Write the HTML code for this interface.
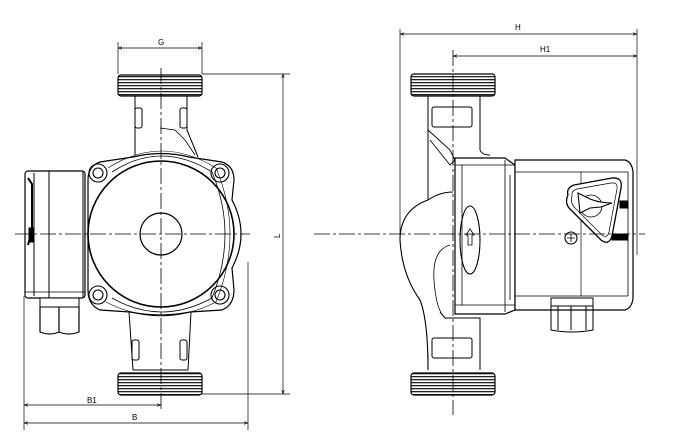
<!DOCTYPE html>
<html><head><style>
html,body{margin:0;padding:0;background:#fff;}
svg{display:block;}
text{font-family:"Liberation Sans",sans-serif;font-size:8px;fill:#000;}
</style></head><body>
<svg width="687" height="438" viewBox="0 0 687 438" xmlns="http://www.w3.org/2000/svg" fill="none" stroke="#000" stroke-width="1">
<defs>
<pattern id="th" x="0" y="0" width="4" height="3" patternUnits="userSpaceOnUse"><rect width="4" height="3" fill="#fff" stroke="none"/><rect x="0" y="1" width="4" height="1.3" fill="#222" stroke="none"/></pattern>
<marker id="ar" markerWidth="6" markerHeight="6" refX="6" refY="3" orient="auto-start-reverse"><path d="M0,1 L6,3 L0,5" stroke="#000" stroke-width="0.8"/></marker>
</defs>

<line x1="118" y1="42" x2="118" y2="74" stroke-width="0.7"/>
<line x1="202" y1="42" x2="202" y2="74" stroke-width="0.7"/>
<line x1="118" y1="48" x2="202" y2="48" stroke-width="0.7" marker-start="url(#ar)" marker-end="url(#ar)"/>
<text x="158" y="45" stroke="none">G</text>
<rect x="118" y="75" width="84" height="21" rx="3" fill="url(#th)" stroke-width="1.2"/>
<rect x="118" y="373" width="84" height="22" rx="3" fill="url(#th)" stroke-width="1.2"/>
<path d="M135,96 L135,155 M187,96 L187,130 L198,157"/>
<path d="M160,128 L175,130 L185,140 L195,155" stroke-width="0.8"/>
<rect x="135" y="108" width="7" height="20" rx="2"/>
<rect x="180" y="108" width="7" height="20" rx="2"/>
<path d="M129,312 L133,370 M191,312 L188,370"/>
<path d="M133,370 L188,370"/>
<rect x="132" y="340" width="7" height="20" rx="2"/>
<rect x="180" y="340" width="7" height="20" rx="2"/>
<path d="M100,162 L133,157 Q161,150 189,157 L222,162 Q234,166 234,180 L232,200 Q250,234 232,268 L234,290 Q234,305 222,310 L190,312 Q161,318 130,312 L100,310 Q88,305 88,290 L88,180 Q88,166 100,162 Z" stroke-width="1.2"/>
<path d="M112,172 Q161,140 212,172 Q238,234 212,298 Q161,326 112,298" stroke-width="0.8"/>
<path d="M108,168 Q161,134 216,168 Q244,234 216,302 Q161,330 106,302" stroke-width="0.6"/>
<circle cx="161" cy="234" r="73" stroke-width="1.6"/>
<circle cx="161" cy="234" r="21" stroke-width="1.2"/>
<g stroke-width="1.1">
<circle cx="98" cy="173" r="9"/><circle cx="98" cy="173" r="5"/>
<circle cx="220" cy="173" r="9"/><circle cx="220" cy="173" r="5"/>
<circle cx="98" cy="295" r="9"/><circle cx="98" cy="295" r="5"/>
<circle cx="220" cy="295" r="9"/><circle cx="220" cy="295" r="5"/>
</g>
<rect x="25" y="171" width="60" height="127" rx="3" fill="#fff" stroke-width="1.2"/>
<line x1="34" y1="173" x2="34" y2="296"/>
<line x1="49" y1="171" x2="49" y2="298"/>
<line x1="83" y1="171" x2="83" y2="298"/>
<path d="M28,178 L32,184 L32,230 L28,245" stroke-width="2"/>
<rect x="29" y="228" width="5" height="14" fill="#000"/>
<line x1="25" y1="292" x2="85" y2="292" stroke-width="0.7"/>
<rect x="40" y="298" width="39" height="9" fill="#fff"/>
<path d="M40,307 L40,332 Q50,336 59,332 L59,307 M59,332 Q69,336 79,332 L79,307" stroke-width="1.2"/>
<line x1="161" y1="68" x2="161" y2="412" stroke-width="0.8" stroke-dasharray="16,3,3,3"/>
<line x1="15" y1="234" x2="250" y2="234" stroke-width="0.8" stroke-dasharray="16,3,3,3"/>
<line x1="202" y1="74" x2="290" y2="74" stroke-width="0.7"/>
<line x1="202" y1="394" x2="290" y2="394" stroke-width="0.7"/>
<line x1="283" y1="74" x2="283" y2="394" stroke-width="0.7" marker-start="url(#ar)" marker-end="url(#ar)"/>
<text x="280" y="242" stroke="none" transform="rotate(-90 278 240)">L</text>
<line x1="24" y1="296" x2="24" y2="430" stroke-width="0.7"/>
<line x1="248" y1="262" x2="248" y2="430" stroke-width="0.7"/>
<line x1="24" y1="405" x2="161" y2="405" stroke-width="0.7" marker-start="url(#ar)" marker-end="url(#ar)"/>
<text x="87" y="403" stroke="none">B1</text>
<line x1="24" y1="423" x2="248" y2="423" stroke-width="0.7" marker-start="url(#ar)" marker-end="url(#ar)"/>
<text x="132" y="420" stroke="none">B</text>

<line x1="400" y1="29" x2="400" y2="240" stroke-width="0.7"/>
<line x1="637" y1="29" x2="637" y2="255" stroke-width="0.7"/>
<line x1="400" y1="34" x2="637" y2="34" stroke-width="0.7" marker-start="url(#ar)" marker-end="url(#ar)"/>
<text x="515" y="30" stroke="none">H</text>
<line x1="453" y1="56" x2="637" y2="56" stroke-width="0.7" marker-start="url(#ar)" marker-end="url(#ar)"/>
<text x="540" y="52" stroke="none">H1</text>
<rect x="411" y="74" width="84" height="22" rx="3" fill="url(#th)" stroke-width="1.2"/>
<rect x="411" y="373" width="84" height="22" rx="3" fill="url(#th)" stroke-width="1.2"/>
<path d="M428,96 L428,200 M480,96 L480,150 Q482,155 490,155"/>
<rect x="432" y="107" width="40" height="20" rx="2"/>
<path d="M428,130 L450,150 L455,160 L450,165 L430,140" stroke-width="0.9"/>
<path d="M428,200 Q440,192 453,192"/>
<path d="M440,312 L445,318 L480,318 L480,370 M428,355 L428,370"/>
<rect x="432" y="338" width="40" height="20" rx="2"/>
<path d="M428,200 Q400,210 400,240 Q402,275 420,300 Q428,320 428,370" stroke-width="1.1"/>
<path d="M450,245 Q432,250 434,280 Q436,310 445,318" stroke-width="0.8"/>
<path d="M455,158 L505,158 L515,165 L515,310 L505,314 L455,314 Z" fill="#fff" stroke-width="1.2"/>
<line x1="462" y1="165" x2="462" y2="305" stroke-width="0.8"/>
<line x1="505" y1="160" x2="505" y2="312" stroke-width="0.8"/>
<line x1="510" y1="175" x2="510" y2="300" stroke-width="0.8"/>
<line x1="455" y1="165" x2="515" y2="165" stroke-width="0.8"/>
<line x1="455" y1="305" x2="515" y2="305" stroke-width="0.8"/>
<ellipse cx="470" cy="240" rx="10" ry="34" stroke-width="1.1"/>
<path d="M470,229 L474,235 L472,235 L472,245 L468,245 L468,235 L466,235 Z" stroke-width="0.8"/>
<path d="M515,160 L625,160 Q632,162 633,172 L633,298 Q632,308 625,310 L515,310 Z" fill="#fff" stroke-width="1.2"/>
<line x1="515" y1="172" x2="628" y2="172" stroke-width="0.8"/>
<line x1="515" y1="296" x2="628" y2="296" stroke-width="0.8"/>
<line x1="581" y1="172" x2="581" y2="296" stroke-width="0.7"/>
<line x1="628" y1="172" x2="628" y2="296" stroke-width="0.8"/>
<path d="M568,195 Q566,188 574,185 L612,178 Q623,177 621,188 L612,236 Q609,246 601,240 L571,210 Q564,204 568,195 Z" stroke-width="1.3" fill="#fff"/>
<path d="M572,196 Q571,191 577,189 L611,183 Q618,182 617,189 L609,232 Q607,239 602,235 L575,208 Q570,203 572,196 Z" stroke-width="0.7"/>
<circle cx="591" cy="206" r="11" stroke-width="0.8" fill="#fff"/>
<path d="M578,193 L590,199 Q600,203 612,203 L601,207 L590,208 L580,213 Z" fill="#fff" stroke-width="1.1"/>
<rect x="620" y="201" width="8" height="7" fill="#000"/>
<rect x="612" y="234" width="16" height="6" fill="#000"/>
<circle cx="571" cy="238" r="6" stroke-width="1.1"/>
<path d="M567,238 L575,238 M571,234 L571,242" stroke-width="0.8"/>
<rect x="551" y="298" width="42" height="8" fill="#fff"/>
<path d="M551,306 L551,330 Q572,334 593,330 L593,306 M558,306 L558,330 M586,306 L586,330 M571,306 L571,330" stroke-width="1"/>
<line x1="453" y1="50" x2="453" y2="415" stroke-width="0.8" stroke-dasharray="16,3,3,3"/>
<line x1="314" y1="234" x2="645" y2="234" stroke-width="0.8" stroke-dasharray="16,3,3,3"/>
</svg>
</body></html>
